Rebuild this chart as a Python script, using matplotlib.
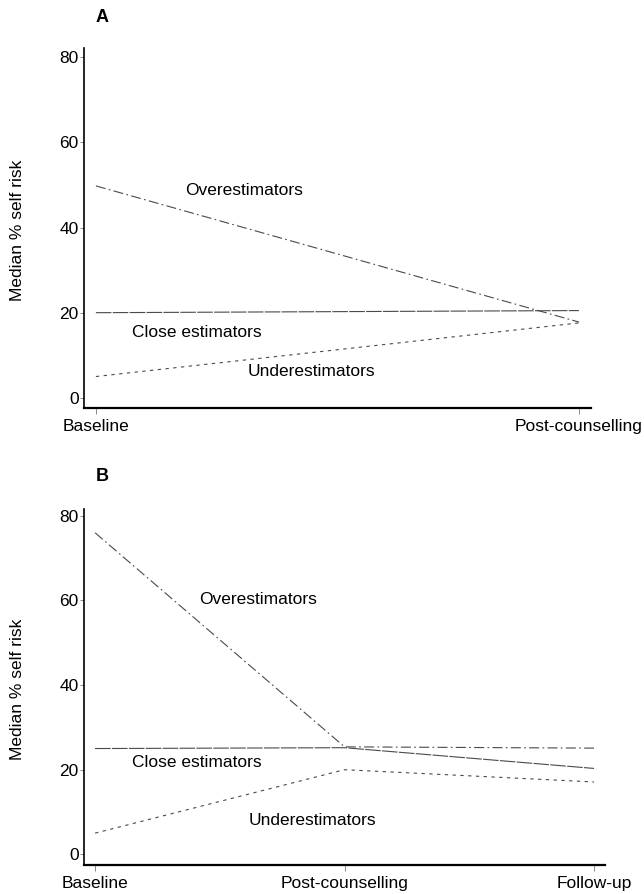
import matplotlib
matplotlib.use("Agg")
import matplotlib.pyplot as plt

plt.rcParams['font.family'] = ['Liberation Sans', 'DejaVu Sans']

# panel A: baseline -> post-counselling
a_times = ["Baseline", "Post-counselling"]
a_over = [49.8, 17.8]
a_close = [20.0, 20.5]
a_under = [5.0, 17.6]

# panel B: baseline -> post-counselling -> follow-up
b_times = ["Baseline", "Post-counselling", "Follow-up"]
b_over = [76.0, 25.4, 25.1]
b_close = [25.0, 25.2, 20.3]
b_under = [5.0, 20.0, 17.1]

yticks = [0, 20, 40, 60, 80]

FS = 12.5
LINE = dict(color="#4a4a4a", lw=0.8)
OVER_LS = (0, (9, 3, 1.5, 3))
CLOSE_LS = (0, (14, 1.2))
UNDER_LS = (0, (3, 4))


def style_axes(ax, labels, xlim, ylim):
    ax.set_xlim(*xlim)
    ax.set_ylim(*ylim)
    ax.set_xticks(range(len(labels)))
    ax.set_xticklabels(labels, fontsize=FS)
    ax.set_yticks(yticks)
    ax.set_yticklabels([str(t) for t in yticks], fontsize=FS)
    ax.spines['right'].set_visible(False)
    ax.spines['top'].set_visible(False)
    ax.spines['left'].set_linewidth(1.2)
    ax.spines['bottom'].set_linewidth(1.6)
    ax.tick_params(axis='y', length=3, width=0.6, pad=1, color="#777777")
    ax.tick_params(axis='x', length=4, width=0.6, pad=4, color="#777777")


fig = plt.figure(figsize=(6.44, 8.94), dpi=100)

# ---- A
ax = fig.add_axes([0.1309, 0.5436, 0.7868, 0.4027])
x = range(len(a_times))
ax.plot(x, a_over, ls=OVER_LS, **LINE)
ax.plot(x, a_close, ls=CLOSE_LS, **LINE)
ax.plot(x, a_under, ls=UNDER_LS, **LINE)
style_axes(ax, a_times, (-0.024, 1.025), (-2.4, 82.2))
ax.text(0.306, 48.8, "Overestimators", fontsize=FS, ha="center", va="center")
ax.text(0.209, 15.4, "Close estimators", fontsize=FS, ha="center", va="center")
ax.text(0.447, 6.1, "Underestimators", fontsize=FS, ha="center", va="center")

# ---- B
bx = fig.add_axes([0.131, 0.0321, 0.8084, 0.3989])
x = range(len(b_times))
bx.plot(x, b_over, ls=OVER_LS, **LINE)
bx.plot(x, b_close, ls=CLOSE_LS, **LINE)
bx.plot(x, b_under, ls=UNDER_LS, **LINE)
style_axes(bx, b_times, (-0.043, 2.044), (-2.6, 81.7))
bx.text(0.653, 60.3, "Overestimators", fontsize=FS, ha="center", va="center")
bx.text(0.407, 21.8, "Close estimators", fontsize=FS, ha="center", va="center")
bx.text(0.870, 7.9, "Underestimators", fontsize=FS, ha="center", va="center")

# y labels and panel letters
fig.text(18 / 644, 1 - 230 / 894, "Median % self risk", rotation=90,
         fontsize=FS, ha="center", va="center")
fig.text(18 / 644, 1 - 689 / 894, "Median % self risk", rotation=90,
         fontsize=FS, ha="center", va="center")
fig.text(96 / 644, 1 - 18 / 894, "A", fontsize=13, fontweight="bold", va="center")
fig.text(96 / 644, 1 - 477 / 894, "B", fontsize=13, fontweight="bold", va="center")

fig.savefig("out.png", dpi=100)
